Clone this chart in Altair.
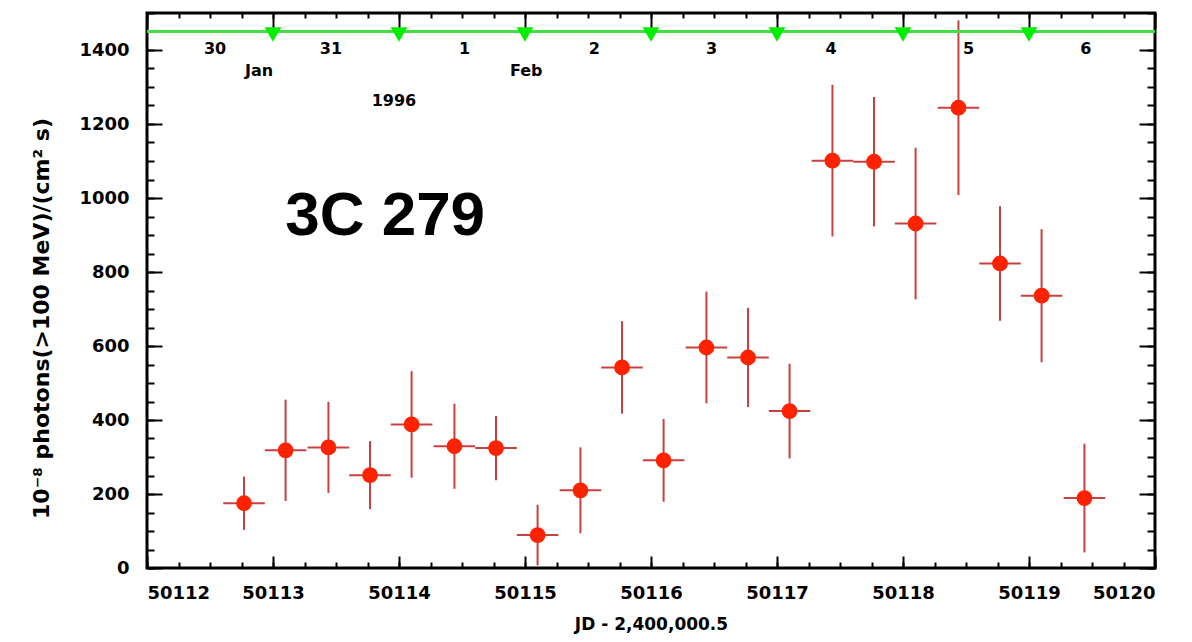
import altair as alt
import pandas as pd

# ---- data ----
mjd = [50112.77, 50113.10, 50113.44, 50113.77, 50114.10, 50114.44, 50114.77,
       50115.10, 50115.44, 50115.77, 50116.10, 50116.44, 50116.77, 50117.10,
       50117.44, 50117.77, 50118.10, 50118.44, 50118.77, 50119.10, 50119.44]
flux = [175, 318, 326, 251, 388, 329, 324, 89, 210, 542, 291, 596, 569, 424,
        1101, 1098, 931, 1244, 823, 736, 189]
flux_err = [72, 137, 123, 92, 144, 115, 87, 82, 116, 125, 112, 151, 134, 128,
            205, 175, 205, 236, 155, 180, 147]
bin_half = 0.165

day_labels = ["30", "31", "1", "2", "3", "4", "5", "6"]
day_pos = [50112.54, 50113.46, 50114.52, 50115.55, 50116.48, 50117.43, 50118.52, 50119.45]
day_level = [1403] * len(day_labels)
month_labels = ["Jan", "Feb"]
month_pos = [50112.89, 50115.01]
month_level = [1343, 1343]
year_labels = ["1996"]
year_pos = [50113.96]
year_level = [1262]
midnights = [50113, 50114, 50115, 50116, 50117, 50118, 50119]
green_level = 1450
source_name = ["3C 279"]
source_pos = [50113.89]
source_level = [952]

x_domain = [50112, 50120]
y_domain = [0, 1500]
x_major = list(range(50112, 50121))
x_minor = [50112 + 0.25 * i for i in range(33)]
y_major = list(range(0, 1401, 200))
y_minor = list(range(0, 1501, 50))

df = pd.DataFrame({"mjd": mjd, "flux": flux, "err": flux_err})
df["lo"] = (df["flux"] - df["err"]).clip(lower=0)
df["hi"] = df["flux"] + df["err"]
df["xlo"] = df["mjd"] - bin_half
df["xhi"] = df["mjd"] + bin_half

green_df = pd.DataFrame({"x": [x_domain[0]], "x2": [x_domain[1]], "y": [green_level]})
tri_df = pd.DataFrame({"t": midnights, "y": [green_level] * len(midnights)})
day_df = pd.DataFrame({"x": day_pos, "y": day_level, "t": day_labels})
month_df = pd.DataFrame({"x": month_pos, "y": month_level, "t": month_labels})
year_df = pd.DataFrame({"x": year_pos, "y": year_level, "t": year_labels})
src_df = pd.DataFrame({"x": source_pos, "y": source_level, "t": source_name})

xs = alt.Scale(domain=x_domain, nice=False, zero=False)
ys = alt.Scale(domain=y_domain, nice=False)

LBL_FONT = "DejaVu Sans"


def tick_axis(orient, values, size):
    return alt.Axis(orient=orient, values=values, tickSize=size, offset=-size,
                    labels=False, domain=False, grid=False, title=None,
                    ticks=True, tickColor="black", tickWidth=2)


x_label_axis = alt.Axis(orient="bottom", values=x_major, format="d", ticks=False,
                        domain=False, grid=False, labelPadding=16,
                        labelFont=LBL_FONT, labelFontSize=18, labelFontWeight="bold",
                        labelColor="black",
                        title="JD - 2,400,000.5", titleFont=LBL_FONT, titleFontSize=17,
                        titleFontWeight="bold", titleColor="black", titlePadding=14)
y_label_axis = alt.Axis(orient="left", values=y_major, format="d", ticks=False,
                        domain=False, grid=False, labelPadding=18,
                        labelFont=LBL_FONT, labelFontSize=18, labelFontWeight="bold",
                        labelColor="black",
                        title="10⁻⁸ photons(>100 MeV)/(cm² s)", titleFont=LBL_FONT,
                        titleFontSize=22, titleFontWeight="bold", titleColor="black",
                        titleX=-106, titleY=305, titleBaseline="middle")

ERR_COLOR = "#c94040"

vbars = alt.Chart(df).mark_rule(color=ERR_COLOR, strokeWidth=2).encode(
    x=alt.X("mjd:Q", scale=xs, axis=x_label_axis),
    y=alt.Y("lo:Q", scale=ys, axis=y_label_axis),
    y2="hi:Q",
)
hbars = alt.Chart(df).mark_rule(color=ERR_COLOR, strokeWidth=2).encode(
    x=alt.X("xlo:Q", scale=xs, axis=tick_axis("bottom", x_major, 12)),
    x2="xhi:Q",
    y=alt.Y("flux:Q", scale=ys, axis=tick_axis("left", y_major, 15)),
)
points = alt.Chart(df).mark_point(shape="circle", filled=True, opacity=1,
                                  color="#ff2200", size=250).encode(
    x=alt.X("mjd:Q", scale=xs, axis=tick_axis("bottom", x_minor, 6)),
    y=alt.Y("flux:Q", scale=ys, axis=tick_axis("left", y_minor, 7)),
)
green = alt.Chart(green_df).mark_rule(color="#44dd44", strokeWidth=3).encode(
    x=alt.X("x:Q", scale=xs, axis=tick_axis("top", x_major, 15)),
    x2="x2:Q",
    y=alt.Y("y:Q", scale=ys, axis=tick_axis("right", y_major, 16)),
)
tris = alt.Chart(tri_df).mark_point(shape="triangle-down", filled=True, opacity=1,
                                    color="#00ee00", size=280, yOffset=3).encode(
    x=alt.X("t:Q", scale=xs, axis=tick_axis("top", x_minor, 5)),
    y=alt.Y("y:Q", scale=ys, axis=tick_axis("right", y_minor, 8)),
)


def text_layer(data, size, font=LBL_FONT):
    return alt.Chart(data).mark_text(font=font, fontSize=size, fontWeight="bold",
                                     color="black", baseline="middle", align="center").encode(
        x=alt.X("x:Q", scale=xs, axis=None),
        y=alt.Y("y:Q", scale=ys, axis=None),
        text="t:N",
    )


days = text_layer(day_df, 16)
months = text_layer(month_df, 16)
years = text_layer(year_df, 16)
source = text_layer(src_df, 62, font="Liberation Sans")

chart = alt.layer(vbars, hbars, points, green, tris, days, months, years, source).resolve_axis(
    x="independent", y="independent"
).properties(
    width=1008, height=555,
    autosize=alt.AutoSizeParams(type="none"),
    padding={"left": 139, "top": 5, "right": 29, "bottom": 66},
    background="white",
).configure_view(stroke="black", strokeWidth=3)

chart.save("out.html", embed_options={"renderer": "svg", "actions": False})
